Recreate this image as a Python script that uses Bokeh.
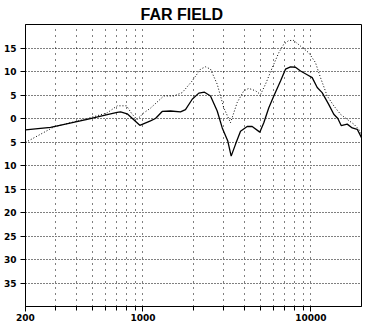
from bokeh.plotting import figure
from bokeh.models import FixedTicker, Range1d, Title
from bokeh.embed import file_html
from bokeh.resources import INLINE

title_text = "FAR FIELD"

# Solid curve (frequency in Hz, level in dB)
freq_solid = [200, 282, 466, 613, 703, 736, 806, 958, 1109, 1188,
              1302, 1460, 1674, 1792, 1965, 2151, 2326, 2525, 2768, 2966,
              3200, 3352, 3556, 3810, 4174, 4470, 4962, 5242, 5614, 6012,
              6592, 7056, 7560, 8092, 8670, 9500, 10176, 10900, 11660, 12760,
              13680, 14460, 15140, 16440, 17620, 18860, 20000]
db_solid = [-2.4, -1.9, -0.2, 0.8, 1.3, 1.4, 1.0, -1.45, -0.5, 0.0,
            1.5, 1.6, 1.4, 1.9, 4.1, 5.4, 5.6, 4.8, 1.6, -2.0,
            -4.8, -8.0, -5.5, -2.7, -1.7, -1.7, -2.9, -0.9, 2.3, 4.8,
            8.0, 10.5, 11.0, 10.9, 10.1, 9.3, 8.7, 6.6, 5.5, 3.0,
            0.9, 0.0, -1.5, -1.2, -2.0, -2.3, -4.1]

# Dotted curve
freq_dot = [200, 295, 466, 613, 703, 798, 863, 924, 1012, 1109,
            1331, 1526, 1713, 1965, 2202, 2358, 2525, 2768, 3028, 3320,
            3640, 3986, 4266, 4678, 5012, 5366, 5884, 6438, 6894, 7380,
            7908, 8670, 9700, 10640, 11400, 12500, 13680, 15000, 16440, 18000,
            19280, 20000]
db_dot = [-5.1, -1.8, 0.0, 1.2, 2.7, 2.7, 0.9, -0.2, 1.2, 2.2,
          4.8, 4.8, 5.5, 8.0, 10.5, 11.0, 10.5, 7.3, 2.3, -0.9,
          3.4, 5.9, 6.4, 5.9, 5.1, 7.3, 10.8, 14.0, 15.8, 16.6,
          16.6, 15.4, 14.0, 11.9, 8.7, 4.8, 2.7, 0.9, -0.2, -1.2,
          -2.3, -3.7]

x_major = [200, 1000, 10000]
x_major_labels = ["200", "1000", "10000"]
x_minor = [300, 400, 500, 600, 700, 800, 900,
           2000, 3000, 4000, 5000, 6000, 7000, 8000, 9000]
y_ticks = [-35, -30, -25, -20, -15, -10, -5, 0, 5, 10, 15]
y_tick_labels = ["35", "30", "25", "20", "15", "10", "5", "0", "5", "10", "15"]

title = Title(text=title_text, align="left", offset=115, standoff=3,
              text_font="Liberation Sans", text_font_style="bold",
              text_font_size="16px", text_color="black")

p = figure(width=366, height=324, x_axis_type="log",
           x_range=Range1d(200, 20000), y_range=Range1d(-40, 20),
           output_backend="svg", toolbar_location=None, title=title,
           min_border_left=25, min_border_right=5,
           min_border_top=24, min_border_bottom=18)

p.background_fill_color = "white"
p.border_fill_color = "white"
p.outline_line_color = "black"
p.outline_line_width = 1

xt = FixedTicker(ticks=x_major, minor_ticks=x_minor)
yt = FixedTicker(ticks=y_ticks, minor_ticks=[])
p.xaxis.ticker = xt
p.yaxis.ticker = yt
p.xgrid.ticker = xt
p.ygrid.ticker = yt

p.xaxis.major_label_overrides = {v: s for v, s in zip(x_major, x_major_labels)}
p.yaxis.major_label_overrides = {v: s for v, s in zip(y_ticks, y_tick_labels)}

for ax in (p.xaxis, p.yaxis):
    ax.axis_line_color = "black"
    ax.major_tick_line_color = "black"
    ax.minor_tick_line_color = "black"
    ax.major_tick_in = 0
    ax.minor_tick_in = 0
    ax.major_label_text_font = "DejaVu Sans"
    ax.major_label_text_font_style = "bold"
    ax.major_label_text_font_size = "9px"
    ax.major_label_text_color = "black"

p.xaxis.major_label_standoff = 2
p.yaxis.major_label_standoff = 4
p.xaxis.major_tick_out = 5
p.xaxis.minor_tick_out = 4
p.yaxis.major_tick_out = 5
p.yaxis.minor_tick_out = 0

p.xgrid.grid_line_color = "black"
p.xgrid.grid_line_dash = "1 5"
p.xgrid.minor_grid_line_color = "black"
p.xgrid.minor_grid_line_dash = "1 5"
p.ygrid.grid_line_color = "black"
p.ygrid.grid_line_dash = "1 2"

p.line(freq_dot, db_dot, line_color="black", line_width=1, line_dash="1 2")
p.line(freq_solid, db_solid, line_color="black", line_width=1.3)

open("out.html", "w").write(file_html(p, INLINE))
